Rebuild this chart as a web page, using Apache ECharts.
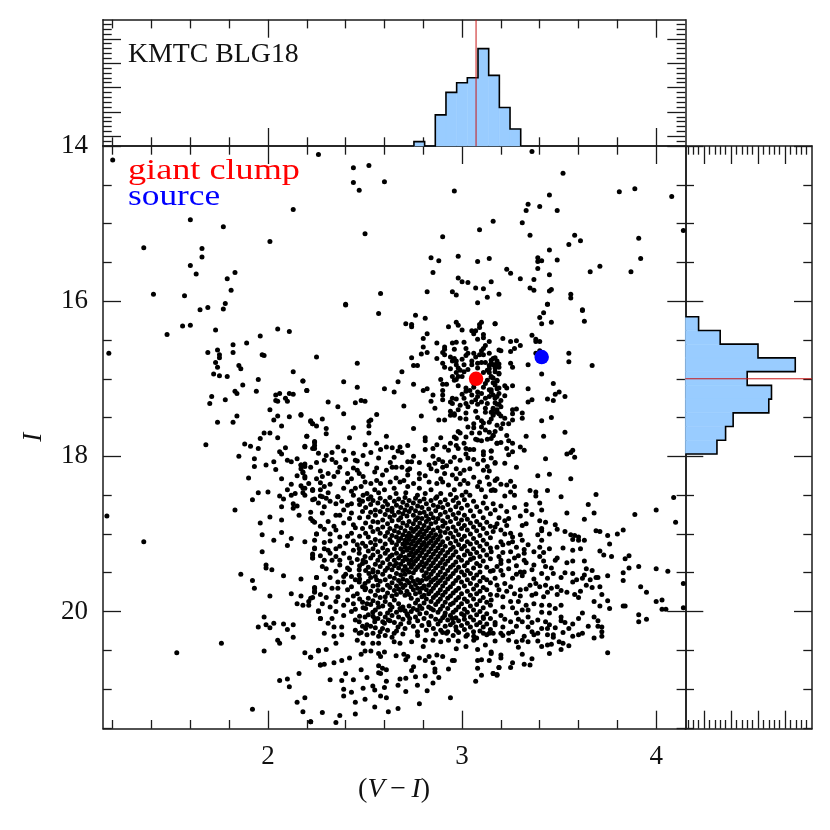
<!DOCTYPE html>
<html><head><meta charset="utf-8">
<style>html,body{margin:0;padding:0;background:#fff}#c{width:830px;height:830px}</style>
<script src="https://cdn.jsdelivr.net/npm/echarts@6/dist/echarts.min.js"></script></head>
<body><div id="c"></div>
<script>
const giantClump=[[3.072,17.0]];
const sourceStar=[[3.41,16.72]];
const clumpLineX=3.072, clumpLineY=17.0;
const topBinStart=2.752, topBinWidth=0.055;
const topCounts=[3.9,3,9.4,14,16,17,23,17.5,10.9,6.5];
const rightBinStart=16.2, rightBinWidth=0.177;
const rightCounts=[4,8,15,21.9,13,17.5,17,10.4,9,7.4];
const xMajor=[2,3,4];
const xMinor=[1.2,1.4,1.6,1.8,2.2,2.4,2.6,2.8,3.2,3.4,3.6,3.8,4.2];
const yMajor=[14,16,18,20];
const yMinor=[14.5,15,15.5,16.5,17,17.5,18.5,19,19.5,20.5,21,21.5];
const countMajorTop=[5,10,15,20,25];
const countMinorTop=[4,6,7,8,9,11,12,13,14,16,17,18,19,21,22,23,24,26,27,28];
const countMajorRight=[5,10,15,20];
const countMinorRight=[2,3,4,6,7,8,9,11,12,13,14,16,17,18,19,21,22,23,24];
const sparseStars=[[1.2,14.18],[2.26,14.11],[2.44,14.28],[2.52,14.25],[2.6,14.46],[2.44,14.47],[2.47,14.57],[2.13,14.82],[1.6,14.95],[1.77,15.04],[2.5,15.13],[2.01,15.23],[1.36,15.31],[1.66,15.32],[1.66,15.43],[1.6,15.54],[1.63,15.65],[1.83,15.63],[1.79,15.71],[1.81,15.86],[1.41,15.91],[1.57,15.93],[2.58,15.9],[2.4,16.04],[1.78,16.03],[1.69,16.08],[1.65,16.11],[1.77,16.1],
[3.36,14.07],[3.52,14.35],[2.96,14.58],[3.45,14.63],[3.34,14.75],[3.4,14.78],[3.33,14.83],[3.49,14.83],[3.81,14.59],[3.89,14.55],[4.08,14.65],[3.16,14.97],[3.31,14.99],[3.09,15.08],[2.9,15.17],[3.35,15.15],[4.14,15.09],[3.58,15.15],[3.61,15.22],[3.55,15.27],[3.91,15.19],[3.45,15.34],[2.84,15.44],[2.88,15.48],[2.98,15.42],[3.08,15.49],[3.14,15.45],[3.39,15.44],[3.39,15.49],[3.41,15.48],[3.49,15.47],[3.92,15.45],[3.39,15.58],[3.23,15.59],[3.25,15.64],[3.71,15.55],[3.66,15.62],[3.87,15.62],[2.85,15.63],[2.98,15.7],[3,15.75],[3.03,15.76],[3.15,15.75],[3.3,15.71],[3.37,15.72],[3.45,15.66],[3.07,15.83],[3.11,15.84],[3.35,15.83],[3.37,15.86],[3.46,15.85],[3.45,15.87],[2.82,15.88],[2.95,15.88],[2.97,15.92],[3.13,15.95],[3.19,15.91],[3.56,15.91],[3.56,15.96],[3.08,16.02],[3.44,16.04],[3.62,16.11],
[1.56,16.32],[1.6,16.31],[1.48,16.43],[1.73,16.37],[2.05,16.36],[2.11,16.39],[1.96,16.45],[1.82,16.56],[1.89,16.54],[1.74,16.63],[1.69,16.66],[1.82,16.66],[1.18,16.67],[1.75,16.69],[1.75,16.73],[1.97,16.69],[1.98,16.7],[1.73,16.79],[1.74,16.85],[1.85,16.83],[1.86,16.87],[2.13,16.91],[1.72,16.94],[1.75,16.96],[1.79,16.97],[1.95,17.01],[2.18,17.03],[1.87,17.08],[1.83,17.16],[1.84,17.19],[1.94,17.16],[2.2,17.15],[2.04,17.21],[2.06,17.19],[2.11,17.19],[2.13,17.2],[1.71,17.23],[1.78,17.27],[2.09,17.25],[2.04,17.28],[2.05,17.29],[2.1,17.29],[1.7,17.32],[2.01,17.4],[1.84,17.48],[2.05,17.48],[2.11,17.49],[2.17,17.46],[2.03,17.53],[1.74,17.56],[1.82,17.56],[2.22,17.55],[2.23,17.58],[2.07,17.61],[1.98,17.7],[2.01,17.7],[1.96,17.77],[2.05,17.76],[2.2,17.74],[1.68,17.85],[1.88,17.84],[1.91,17.87],[1.95,17.9],[2.09,17.89],[2.19,17.87],[2.24,17.82],[2.23,17.9],[2.06,17.94],[2.07,17.97],[1.85,18],[1.93,18.03],[2.15,18.03],[2.1,18.05],[2.12,18.07],[2.03,18.07],[1.93,18.13],[1.99,18.11],[2.17,18.11],[2.19,18.1],[2.22,18.14],[2.17,18.16],[2.04,18.17],[2.18,18.21],[1.9,18.28],[2.19,18.28],[2.07,18.29],[2.15,18.25],[2.12,18.36],[2.17,18.38],[2.19,18.41],[2.1,18.43],[2.23,18.43],[1.95,18.47],[2,18.46],[2.18,18.47],[2.06,18.51],[2.12,18.5],[2.14,18.48],[2.23,18.44],[1.92,18.56],[2.08,18.55],[2.23,18.56],[2.13,18.61],[2.15,18.64],[2.07,18.65],[2.13,18.67],[1.83,18.69],[2.16,18.76],[1.17,18.77],[2.01,18.78],[2.07,18.82],[2.22,18.8],
[2.24,18.85],[1.96,18.86],[1.36,19.1],[1.97,19.01],[2.07,18.98],[2.25,19],[2.03,19.08],[2.12,19.06],[2.19,19.1],[2.1,19.15],[2.24,19.19],[1.97,19.23],[2.23,19.26],[2.23,19.31],[1.99,19.4],[1.99,19.44],[2.02,19.46],[1.86,19.52],[2.08,19.54],[2.17,19.58],[2.25,19.56],[1.92,19.6],[1.93,19.7],[2.24,19.69],[2.24,19.74],[2.12,19.77],[2.01,19.8],[2.17,19.8],[2.23,19.82],[2.21,19.87],[2.15,19.9],[2.18,19.92],[2.21,19.92],[2.26,19.99],[1.98,20.07],[2.27,20.09],[2.03,20.15],[1.99,20.17],[2.08,20.16],[2.13,20.17],[1.95,20.2],[2.01,20.21],[2.1,20.23],[2.13,20.33],[2.05,20.37],[2.06,20.41],[1.76,20.41],[1.53,20.53],[1.98,20.51],[2.19,20.53],[2.26,20.5],[2.22,20.59],[2.27,20.69],[2.16,20.8],[2.1,20.87],[2.06,20.89],[2.11,20.97],[2.19,21.11],[2.15,21.17],[1.92,21.26],[2.18,21.29],[2.22,21.42]];
const clumpStars=[[2.4,16.05],[2.57,16.16],[2.76,16.18],[2.81,16.22],[2.71,16.29],[2.74,16.3],[2.74,16.33],[2.93,16.33],[2.97,16.27],[2.98,16.31],[3,16.37],[3.1,16.27],[3.09,16.3],[3.09,16.34],[3.17,16.29],[3.05,16.38],[3.07,16.38],[3.06,16.42],[2.82,16.42],[2.8,16.48],[3.11,16.43],[3.11,16.47],[3.08,16.49],[2.87,16.54],[2.95,16.54],[2.97,16.53],[3.01,16.53],[3.14,16.52],[2.8,16.59],[2.91,16.59],[2.91,16.62],[2.96,16.62],[3.02,16.61],[3.12,16.57],[3.11,16.61],[3.1,16.64],[2.79,16.68],[2.82,16.66],[2.9,16.66],[2.91,16.69],[3.03,16.67],[3.06,16.67],[3.09,16.69],[3.11,16.69],[3.14,16.67],[3.19,16.63],[2.25,16.72],[2.74,16.73],[2.87,16.74],[2.94,16.72],[2.96,16.74],[2.95,16.77],[2.97,16.77],[3,16.75],[3.05,16.77],[3.08,16.8],[3.1,16.79],[3.12,16.79],[3.16,16.74],[3.18,16.77],[3.15,16.8],[3.17,16.82],[2.46,16.8],[2.75,16.83],[2.77,16.83],[2.9,16.8],[2.91,16.85],[2.97,16.82],[3.01,16.82],[3.05,16.82],[3.13,16.89],[3.14,16.87],[3.19,16.85],[2.69,16.91],[2.94,16.87],[2.99,16.89],[3.01,16.91],[2.97,16.92],[3.14,16.92],[3.17,16.91],[3.15,16.97],[3.19,16.94],[2.95,16.97],[2.98,16.97],[3,16.97],[2.96,17.02],[2.97,17.01],[2.89,17.01],[2.18,17.03],[2.39,17.04],[2.67,17.04],[2.75,17.07],[2.92,17.07],[3.13,17.02],[3.16,16.99],[3.18,17.02],[2.46,17.11],[2.2,17.15],[2.6,17.13],[2.65,17.17],[2.8,17.15],[2.82,17.13],[2.9,17.07],[2.9,17.15],[3.06,17.11],[3.04,17.15],[3.08,17.17],[3.11,17.11],[3.14,17.14],[3.17,17.08],[3.19,17.12],[3.15,17.17],[2.9,17.21],[2.85,17.21],[3,17.2],[3.01,17.25],[3.05,17.21],[3.08,17.23],[3.1,17.19],[3.12,17.25],[3.14,17.23],[3.18,17.23],[2.95,17.25],[2.97,17.26],[2.9,17.27],[2.84,17.29],[2.31,17.3],[2.45,17.31],[2.48,17.28],[2.5,17.29],[2.94,17.3],[2.95,17.32],[3.02,17.32],[3.05,17.3],[3.08,17.33],[3.1,17.3],[3.13,17.32],[3.17,17.31],[3.19,17.33],[2.99,17.34],[2.7,17.35],[2.36,17.36],[2.86,17.38],[3.12,17.38],[3.16,17.4],[3.18,17.43],[3.16,17.45],[3.19,17.45],[2.39,17.45],[2.17,17.47],[2.94,17.42],[2.96,17.45],[2.94,17.47],[2.96,17.47],[2.56,17.46],[2.79,17.48],[2.28,17.52],[2.22,17.54],[2.99,17.51],[3.02,17.52],[3.08,17.5],[2.88,17.53],[2.91,17.53],[2.52,17.55],[2.53,17.53],[2.23,17.58],[2.25,17.61],[2.52,17.61],[3.14,17.56],[3.06,17.58],[3.11,17.57],[3.03,17.62],[3.06,17.63],[3.1,17.62],[3.12,17.66],[2.44,17.63],[2.3,17.64],[2.75,17.64],[2.98,17.68],[2.99,17.7],[2.52,17.7],[2.3,17.71],[2.2,17.74],[2.42,17.76],[2.61,17.74],[3.16,17.73],[2.89,17.76],[2.81,17.76],[2.81,17.8],[2.96,17.75],[2.97,17.77],[3.07,17.78],[3.08,17.79],[3.1,17.8],[3.13,17.78],[3.15,17.77],[2.24,17.81],[2.24,17.86],[2.24,17.9],[2.56,17.83],[3.18,17.83],[2.19,17.88],[2.5,17.85],[2.72,17.86],[2.87,17.85],[2.85,17.9],[2.91,17.88],[2.94,17.83],[2.97,17.86],[3.01,17.83],[2.61,17.88],[2.64,17.89],[2.68,17.88],[2.36,17.88],[2.67,17.93],[2.69,17.95],[2.81,17.91],[2.33,17.95],[2.39,17.93],[2.93,17.92],[2.98,17.9],[3.02,17.9],[3.06,17.91],[3.04,17.91],[3.11,17.94],[3.11,17.98],[3.15,17.93],[2.3,17.99],[2.49,17.99],[3.02,17.97],[2.33,18.04],[2.35,18.08],[2.37,18.14],[2.4,18.04],[2.45,18.05],[2.46,18.06],[2.57,18.02],[2.99,18.05],[3.06,18.04],[3.11,18.05],[2.88,18.04],[2.9,18.07],[2.86,18.09],[2.83,18.11],[2.9,18.14],[2.63,18.08],[2.72,18.07],[2.74,18.07],[2.78,18.08],[3.17,18.08],[2.17,18.11],[2.19,18.13],[2.56,18.15],[2.64,18.14],[2.66,18.14],[2.69,18.14],[2.73,18.16],[2.72,18.18],[2.84,18.16],[2.87,18.19],[2.97,18.16],[3.01,18.18],[3.04,18.16],[3.11,18.18],[2.18,18.2],[2.27,18.19],[2.28,18.26],[2.25,18.29],[2.46,18.18],[2.47,18.22],[2.41,18.22],[2.59,18.24],[2.72,18.24],[2.78,18.22],[2.78,18.29],[2.91,18.22],[2.95,18.24],[2.97,18.29],[2.99,18.22],[2.19,18.26],[2.34,18.26],[2.43,18.29],[2.41,18.33],[2.49,18.26],[2.5,18.33],[2.56,18.31],[2.58,18.35],[2.68,18.33],[2.89,18.29],[2.9,18.33],[2.87,18.35],[3.01,18.31],[3.03,18.35],[3.09,18.33],[3.17,18.31],[2.32,18.36],[2.29,18.39],[2.27,18.43],[2.23,18.43],[2.18,18.41],[2.39,18.41],[2.45,18.41],[2.48,18.39],[2.53,18.35],[2.6,18.43],[2.65,18.41],[2.72,18.39],[2.78,18.41],[2.84,18.43],[2.89,18.48],[2.96,18.43],[3.02,18.46],[3.1,18.43],[3.16,18.43],[2.19,18.5],[2.28,18.52],[2.36,18.52],[2.44,18.5],[2.51,18.48],[2.57,18.47],[2.71,18.47],[2.77,18.5],[2.87,18.52],[2.97,18.53],[3.04,18.5],[3.12,18.52]];
const rightStars=[[3.44,16.04],[3.62,16.12],[3.42,16.15],[3.4,16.21],[3.41,16.29],[3.46,16.27],[3.63,16.26],[3.17,16.29],[3.36,16.44],[3.38,16.49],[3.38,16.52],[3.4,16.52],[3.21,16.48],[3.25,16.52],[3.28,16.51],[3.3,16.57],[3.27,16.61],[3.25,16.65],[3.2,16.64],[3.38,16.67],[3.4,16.64],[3.55,16.67],[3.55,16.78],[3.67,16.83],[3.34,16.82],[3.25,16.8],[3.26,16.85],[3.17,16.73],[3.15,16.76],[3.18,16.8],[3.16,16.82],[3.19,16.81],[3.41,16.94],[3.17,16.86],[3.19,16.93],[3.47,17.06],[3.15,16.98],[3.18,17.03],[3.34,17.13],[3.22,17.09],[3.23,17.12],[3.26,17.09],[3.15,17.14],[3.18,17.13],[3.16,17.21],[3.19,17.19],[3.17,17.25],[3.22,17.22],[3.5,17.17],[3.48,17.2],[3.53,17.23],[3.44,17.26],[3.47,17.28],[3.36,17.27],[3.34,17.3],[3.2,17.28],[3.18,17.33],[3.2,17.36],[3.16,17.38],[3.15,17.43],[3.18,17.4],[3.26,17.4],[3.28,17.39],[3.26,17.45],[3.31,17.44],[3.31,17.51],[3.2,17.48],[3.22,17.51],[3.46,17.5],[3.26,17.53],[3.24,17.58],[3.41,17.54],[3.21,17.58],[3.2,17.64],[3.16,17.47],[3.53,17.69],[3.33,17.74],[3.42,17.74],[3.16,17.73],[3.23,17.73],[3.24,17.8],[3.26,17.83],[3.2,17.82],[3.18,17.83],[3.3,17.88],[3.32,17.92],[3.23,17.9],[3.26,17.94],[3.24,17.98],[3.15,17.93],[3.57,17.92],[3.56,17.95],[3.54,17.97],[3.58,18.01],[3.43,18.03],[3.17,18.09],[3.22,18.09],[3.28,18.14],[3.14,18.19],[3.45,18.23],[3.39,18.25],[3.56,18.29],[3.18,18.29],[3.2,18.36],[3.25,18.32],[3.23,18.37],[3.27,18.39],[3.15,18.44],[3.17,18.44],[3.25,18.46],[3.27,18.5],[3.22,18.51],[3.35,18.44],[3.38,18.46],[3.38,18.51],[3.44,18.44],[3.51,18.52],[3.69,18.49],[4.09,18.53],
[3.65,18.62],[3.54,18.73],[3.68,18.73],[3.89,18.75],[4,18.69],[3.63,18.81],[4.1,18.85],[3.33,18.62],[3.33,18.7],[3.36,18.75],[3.4,18.6],[3.41,18.69],[3.27,18.66],[3.23,18.71],[3.2,18.64],[3.19,18.79],[3.22,18.83],[3.16,18.61],[3.17,18.69],[3.4,18.83],[3.43,18.85],[3.48,18.88],[3.49,18.94],[3.31,18.89],[3.33,18.87],[3.41,18.93],[3.41,18.96],[3.23,18.89],[3.17,18.91],[3.16,18.97],[3.53,18.97],[3.45,19],[3.56,19.01],[3.58,19.02],[3.6,19.04],[3.63,19.08],[3.57,19.07],[3.6,19.08],[3.69,18.96],[3.71,18.97],[3.75,19.02],[3.76,19.13],[3.8,19],[3.83,18.95],[3.39,19.01],[3.41,19.08],[3.3,19.01],[3.31,19.08],[3.26,19.1],[3.25,18.99],[3.26,19.04],[3.2,19.1],[3.21,19.14],[3.4,19.17],[3.42,19.24],[3.45,19.19],[3.52,19.18],[3.57,19.21],[3.61,19.19],[3.71,19.22],[3.73,19.27],[3.77,19.29],[3.32,19.2],[3.32,19.25],[3.29,19.28],[3.25,19.23],[3.21,19.24],[3.15,19.23],[3.4,19.29],[3.49,19.31],[3.48,19.34],[3.57,19.35],[3.54,19.37],[3.63,19.35],[3.84,19.32],[3.86,19.28],[3.86,19.44],[3.91,19.42],[4,19.45],[4.06,19.48],[3.83,19.5],[3.83,19.6],[3.75,19.54],[3.67,19.47],[3.64,19.45],[3.69,19.56],[3.7,19.56],[4.14,19.64],[3.32,19.34],[3.33,19.37],[3.2,19.34],[3.24,19.35],[3.2,19.38],[3.43,19.42],[3.46,19.44],[3.37,19.4],[3.36,19.46],[3.28,19.41],[3.3,19.49],[3.32,19.49],[3.47,19.51],[3.41,19.51],[3.53,19.5],[3.57,19.51],[3.63,19.53],[3.62,19.57],[3.59,19.59],[3.57,19.62],[3.51,19.56],[3.44,19.57],[3.37,19.58],[3.31,19.54],[3.26,19.57],[3.2,19.47],[3.21,19.53],[3.16,19.47],[3.17,19.57],[3.66,19.59],[3.64,19.66],[3.67,19.69],[3.71,19.68],[3.72,19.78],[3.92,19.68],[3.95,19.75],[3.49,19.68],[3.46,19.7],[3.43,19.66],[3.4,19.68],[3.35,19.66],[3.38,19.64],[3.3,19.72],[3.27,19.77],[3.22,19.64],[3.25,19.68],[3.18,19.66],[3.54,19.75],[3.58,19.78],[3.61,19.74],[3.6,19.82],[3.49,19.78],[3.38,19.77],[3.36,19.79],[3.42,19.81],[3.75,19.86],[3.76,19.96],[3.71,19.93],[3.68,19.87],[4,19.87],[4.03,19.85],[4.03,19.97],[4.05,19.97],[4.14,19.95],[3.83,19.93],[3.84,19.93],[3.91,20.04],[3.91,20.13],[3.95,20.1],[3.29,19.87],[3.25,19.87],[3.21,19.81],[3.18,19.79],[3.15,19.85],[3.33,19.92],[3.37,19.9],[3.41,19.92],[3.45,19.92],[3.51,19.92],[3.48,19.96],[3.45,20.02],[3.31,19.98],[3.21,19.94],[3.17,20],[3.62,20.02],[3.6,20.09],[3.68,20.07],[3.7,20.12],[3.65,20.19],[3.7,20.19],[3.72,20.2],[3.72,20.26],[3.72,20.32],[3.68,20.34],[3.57,20.16],[3.55,20.22],[3.53,20.14],[3.51,20.07],[3.51,20.12],[3.39,20.11],[3.43,20.13],[3.45,20.17],[3.48,20.21],[3.34,20.07],[3.28,20.02],[3.25,20.13],[3.2,20.05],[3.17,20.14],[3.31,20.13],[3.34,20.2],[3.36,20.26],[3.37,20.3],[3.32,20.32],[3.26,20.26],[3.24,20.28],[3.2,20.28],[3.21,20.31],[3.16,20.28],[3.17,20.38],[3.44,20.22],[3.44,20.3],[3.47,20.3],[3.47,20.33],[3.57,20.32],[3.6,20.3],[3.62,20.28],[3.39,20.38],[3.34,20.39],[3.31,20.37],[3.28,20.39],[3.24,20.37],[3.5,20.39],[3.52,20.41],[3.55,20.44],[3.46,20.42],[3.44,20.43],[3.41,20.45],[3.51,20.49],[3.45,20.54],[3.75,20.53],[3.29,20.46],[3.31,20.55],[3.36,20.61],[3.32,20.68],[3.35,20.69],[3.26,20.66],[3.25,20.72],[3.15,20.52],[3.2,20.56],[3.2,20.6],[3.19,20.72],[3.16,20.8],[3.18,20.82]];
const lowerStars=[[2.22,21.42],[2.28,21.3],[2.35,21.43],[2.37,21.34],[2.45,21.32],[2.55,21.23],[2.62,21.29],[2.67,21.25],[2.78,21.19],[2.94,21.11],[2.45,21.17],[2.5,21.13],[2.39,21.09],[2.43,21.04],[2.39,21],[2.49,20.99],[2.54,20.96],[2.55,21.01],[2.58,21.09],[2.61,21.11],[2.6,20.98],[2.61,20.9],[2.71,21.03],[2.82,21.02],[2.77,20.95],[2.67,20.95],[2.85,20.92],[2.88,20.85],[2.81,20.83],[2.76,20.84],[2.68,20.87],[2.71,20.86],[2.74,20.76],[2.75,20.71],[2.32,20.88],[2.38,20.89],[2.44,20.88],[2.4,20.8],[2.51,20.85],[2.48,20.75],[2.57,20.7],[2.59,20.73],[2.57,20.79],[2.58,20.8],[2.61,20.75],[2.86,20.74],[2.86,20.78],[2.93,20.74],[2.34,20.66],[2.38,20.63],[2.27,20.69],[2.29,20.68],[2.42,20.6],[2.22,20.59],[2.26,20.51],[2.3,20.49],[2.48,20.55],[2.5,20.51],[2.53,20.51],[2.57,20.54],[2.58,20.58],[2.6,20.52],[2.66,20.57],[2.7,20.55],[2.71,20.62],[2.72,20.58],[2.78,20.6],[2.81,20.63],[2.83,20.58],[2.87,20.56],[2.9,20.58],[2.85,20.66],[2.95,20.63],[2.96,20.63],[2.97,20.48],[3.07,20.9],[3.1,20.82],[3.08,20.73],[3.1,20.62],[3.08,20.63],[3.16,20.8],[3.18,20.81],[3.19,20.72],[3.14,20.63],[3.15,20.54],[3.12,20.43],[3.08,20.49],[3.02,20.45],[3.06,20.37],[2.29,20.28],[2.34,20.32],[2.35,20.41],[2.38,20.3],[2.46,20.37],[2.49,20.41],[2.54,20.41],[2.57,20.41],[2.47,20.28],[2.51,20.3],[2.57,20.32],[2.65,20.39],[2.68,20.41],[2.74,20.39],[2.8,20.45],[2.81,20.37],[2.85,20.37],[2.89,20.39],[2.93,20.37],[2.98,20.38],[2.34,20.2],[2.38,20.2],[2.45,20.24],[2.48,20.27],[2.51,20.17],[2.55,20.13],[2.59,20.22],[2.62,20.11],[2.65,20.28],[2.67,20.2],[2.26,20],[2.27,20.09],[2.33,20.09],[2.39,20.05],[2.43,20],[2.45,20.11],[2.47,20.13],[2.5,20.07],[2.55,20.09],[2.6,20.15],[2.73,20.09],[2.77,20.26],[2.83,20.17],[2.89,20.24],[2.92,20.28],[2.97,20.24],[3.02,20.32],[3.06,20.32],[3.11,20.28],[3.14,20.28],[2.22,19.83],[2.28,19.9],[2.32,19.94],[2.39,19.92],[2.44,19.9],[2.51,19.9],[2.57,19.94],[2.63,19.98],[2.68,19.96],[2.72,20.05],[2.77,19.98],[2.84,19.96],[2.91,20.05],[2.95,20.09],[3.01,20.05],[3.11,20.09],[3.17,20.17],[2.25,19.56],[2.24,19.7],[2.24,19.75],[2.33,19.7],[2.36,19.7],[2.41,19.72],[2.46,19.77],[2.36,19.81],[2.35,19.87],[2.39,19.62],[2.36,19.62],[2.39,19.55],[2.45,19.59],[2.47,19.62],[2.5,19.64],[2.47,19.53],[2.52,19.51],[2.54,19.49],[2.56,19.59],
[2.24,18.55],[2.27,18.51],[2.3,18.54],[2.29,18.65],[2.28,18.73],[2.23,18.83],[2.31,18.84],[2.25,19],[2.29,19.11],[2.32,19.09],[2.24,19.18],[2.29,19.19],[2.31,19.21],[2.32,19.25],[2.35,19.19],[2.37,19.16],[2.4,19.12],[2.41,19.03],[2.43,18.99],[2.44,18.88],[2.43,18.73],[2.39,18.86],[2.35,18.76],[2.37,18.76],[2.35,18.95],[2.29,19.34],[2.33,19.34],[2.3,19.45],[2.35,19.48],[2.37,19.4],[2.37,19.34],[2.43,19.37],[2.41,19.44],[2.42,19.46],[2.49,19.34],[2.44,19.21],[2.47,19.19],[2.47,19.25],[2.5,19.29],[2.23,19.27],[2.23,19.31],[2.35,18.61],[2.36,18.52],[2.38,18.58],[2.41,18.63],[2.43,18.61],[2.47,18.56],[2.49,18.5],[2.53,18.52]];
const fringeStars=[[2.26,18.6],[2.32,18.58],[2.39,18.69],[2.42,18.8],[2.45,18.92],[2.34,18.9],[2.29,18.94],[2.37,19.04],[2.32,19.0],[2.44,19.09],[2.46,19.14],[2.39,19.25],[2.35,19.29],[2.42,19.31],[2.46,19.33],[2.4,19.52],[2.43,19.55],[2.47,19.46],[2.43,19.68],[2.5,19.72],[2.44,19.8],[2.41,19.85],[2.49,19.95],[2.45,19.97],[2.54,20.01],
[2.22,18.72],[2.27,18.9],[2.24,19.08],[2.27,19.28],[2.28,19.42],[2.32,19.56],[2.29,19.65],[2.3,19.82],[2.27,19.78],[2.35,20],[2.31,20.15],
[2.44,18.15],[2.51,18.1],[2.55,18.2],[2.61,18.18],[2.66,18.28],[2.63,18.33],[2.7,18.31],[2.75,18.35],[2.81,18.25],[2.83,18.33],[2.93,18.37],[2.99,18.36],[3.06,18.27],[3.08,18.39],[3.13,18.27],[3.14,18.36],[2.92,18.12],[2.94,18.07],[3.03,18.02],[3.08,18.1],[3.13,18.13],[3.15,18.02],[2.96,18.01],[2.85,18],[2.75,18],[2.65,18.01],[2.53,17.95],[2.58,17.91],[2.44,17.96],[2.81,18.48],[2.94,18.49],[3,18.5],[2.66,18.48],[2.55,18.43],[2.43,18.45],[2.31,18.47],[2.21,18.35],[2.27,18.34],[2.31,18.22],[2.36,18.2],[2.25,18.08],[2.29,18.05],[2.26,17.96],
[3.02,16.7],[3.07,16.72],[2.98,16.86],[3.03,16.88],[3.08,16.86],[3.11,16.92],[3.06,17.06],[3.02,17.12],[2.98,17.09],[3.12,17.06],[3.16,17.05],[3.14,16.83],[3.02,17.16],[3.07,17.27],[3.03,17.36],[3.07,17.42],[3.02,17.44],[3.12,17.43],[2.98,17.4],[3.1,17.54],[3.15,17.52],[3.18,17.6],[3.05,17.7],[3.09,17.7],[3.14,17.69],[3.02,17.75],[3.17,17.68],
[3.2,18.95],[3.24,18.8],[3.3,18.77],[3.18,18.87],[3.22,19],[3.28,19.17],[3.24,19.12],[3.18,19.17],[3.19,19.29],[3.27,19.31],[3.34,19.14],[3.37,19.23],[3.42,19.35],[3.18,19.42],[3.24,19.45],[3.28,19.52],[3.19,19.72],[3.23,19.74],[3.33,19.71],[3.44,19.75],[3.51,19.73],[3.3,19.8],[3.26,19.95],[3.34,19.98],[3.41,20.01],[3.22,20.1],[3.29,20.1],[3.36,20.14],[3.21,20.2],[3.28,20.19],[3.41,20.22],[3.52,20.27],[3.39,20.28]];
const coreColumns=[
[2.472,18.62,18.79,19.03,19.41,19.58,19.84,20.06],
[2.487,18.58,18.71,18.93,19.12,19.38,19.68,19.88,20.19],
[2.503,18.66,18.86,18.99,19.16,19.36,19.47,19.7,19.96,20.22],
[2.517,18.55,18.78,19.04,19.22,19.43,19.61,19.83,20.04],
[2.529,18.62,18.72,18.91,19.11,19.31,19.56,19.74,19.91,20.19],
[2.541,18.57,18.84,18.97,19.19,19.27,19.46,19.67,19.86,20.06,20.28],
[2.553,18.69,18.76,19.07,19.14,19.39,19.55,19.79,19.98,20.21],
[2.566,18.6,18.85,18.94,19.23,19.34,19.49,19.66,19.73,19.89,20.09],
[2.578,18.54,18.71,18.99,19.09,19.29,19.42,19.61,19.82,20.03,20.26],
[2.591,18.65,18.82,18.91,19.18,19.37,19.52,19.72,19.93,20.13],
[2.604,18.58,18.75,19.03,19.13,19.25,19.47,19.59,19.81,19.87,20.07,20.31],
[2.616,18.62,18.69,18.87,18.98,19.21,19.33,19.44,19.66,19.76,20.02,20.24],
[2.628,18.53,18.78,18.93,19.07,19.29,19.39,19.55,19.69,19.91,20.12],
[2.639,18.67,18.71,18.83,19.02,19.11,19.27,19.46,19.63,19.8,19.94,20.05,20.33],
[2.651,18.58,18.76,18.96,19.19,19.34,19.41,19.57,19.73,19.85,20.14],
[2.662,18.63,18.9,19.04,19.14,19.25,19.38,19.51,19.67,19.78,20.01,20.25],
[2.673,18.55,18.72,18.82,18.98,19.09,19.31,19.44,19.6,19.71,19.9,20.07],
[2.684,18.66,18.79,18.92,19.06,19.19,19.28,19.39,19.53,19.64,19.75,19.98,20.16],
[2.695,18.59,18.74,18.86,19.01,19.13,19.23,19.35,19.47,19.58,19.69,19.94,20.1,20.29],
[2.706,18.53,18.69,18.96,19.08,19.17,19.3,19.42,19.52,19.66,19.79,19.99,20.22],
[2.716,18.63,18.77,18.89,19.03,19.12,19.21,19.33,19.46,19.6,19.74,20.03],
[2.727,18.57,18.71,18.84,18.99,19.07,19.18,19.27,19.38,19.49,19.63,19.78,19.93,20.14],
[2.738,18.67,18.93,19.03,19.13,19.24,19.34,19.43,19.56,19.68,19.83,20],
[2.749,18.6,18.76,18.87,18.97,19.09,19.19,19.29,19.39,19.5,19.61,19.72,19.96,20.19],
[2.76,18.54,18.7,18.82,18.94,19.05,19.15,19.25,19.35,19.46,19.65,19.77,19.89,20.07],
[2.771,18.64,18.79,18.91,19.01,19.11,19.22,19.32,19.43,19.59,19.7,19.85,20.12,20.31],
[2.782,18.58,18.73,18.86,18.98,19.08,19.18,19.28,19.4,19.63,19.75,19.93,20.03],
[2.793,18.66,18.8,18.94,19.04,19.14,19.24,19.36,19.47,19.6,19.7,19.81,19.96,20.18],
[2.804,18.55,18.72,18.89,19,19.11,19.2,19.31,19.42,19.54,19.67,19.79,19.89,20.09],
[2.816,18.61,18.77,18.84,18.96,19.06,19.16,19.27,19.38,19.5,19.58,19.72,19.84,20.02,20.24],
[2.828,18.68,18.81,18.92,19.03,19.12,19.23,19.34,19.45,19.56,19.66,19.77,19.94,20.14],
[2.84,18.57,18.74,18.87,18.99,19.09,19.19,19.3,19.41,19.52,19.62,19.74,19.87,20.06],
[2.852,18.63,18.79,18.95,19.05,19.15,19.26,19.37,19.48,19.59,19.7,19.82,19.98,20.22],
[2.864,18.54,18.7,18.85,19.01,19.11,19.22,19.33,19.44,19.57,19.66,19.79,19.91,20.1,20.29],
[2.876,18.65,18.8,18.92,19.07,19.18,19.29,19.41,19.53,19.63,19.76,19.87,20.01,20.16],
[2.888,18.59,18.75,18.97,19.03,19.14,19.25,19.37,19.49,19.6,19.72,19.84,19.97,20.12],
[2.9,18.66,18.83,18.9,19.1,19.21,19.33,19.44,19.56,19.67,19.79,19.93,20.08,20.27],
[2.913,18.56,18.72,18.86,18.98,19.16,19.28,19.39,19.52,19.63,19.75,19.88,20.02,20.19],
[2.926,18.62,18.78,18.93,19.06,19.24,19.35,19.47,19.58,19.71,19.83,19.96,20.11,20.26],
[2.94,18.69,18.84,18.99,19.12,19.2,19.31,19.43,19.55,19.68,19.8,19.91,20.05,20.17],
[2.954,18.57,18.75,18.91,19.04,19.17,19.27,19.4,19.51,19.64,19.76,19.89,20.01,20.14,20.31],
[2.968,18.65,18.8,18.96,19.09,19.23,19.36,19.47,19.6,19.73,19.85,19.98,20.08,20.2],
[2.982,18.6,18.73,18.87,19.01,19.14,19.3,19.43,19.56,19.7,19.82,19.94,20.12,20.27],
[2.997,18.67,18.82,18.93,19.07,19.19,19.34,19.49,19.62,19.77,19.9,20.03,20.18],
[3.012,18.56,18.76,18.89,19.03,19.16,19.27,19.41,19.53,19.67,19.84,19.97,20.1,20.23],
[3.027,18.63,18.81,18.95,19.1,19.22,19.37,19.47,19.59,19.74,19.87,20.01,20.15,20.3],
[3.043,18.7,18.86,19,19.13,19.26,19.33,19.51,19.64,19.79,19.93,20.07,20.2],
[3.059,18.58,18.77,18.91,19.06,19.19,19.31,19.44,19.57,19.71,19.84,19.98,20.11,20.26],
[3.075,18.65,18.84,18.96,19.11,19.24,19.38,19.53,19.66,19.77,19.91,20.04,20.17,20.34],
[3.092,18.71,18.88,19.02,19.16,19.29,19.41,19.49,19.61,19.74,19.86,20,20.14,20.25],
[3.109,18.6,18.79,18.93,19.08,19.21,19.35,19.56,19.69,19.82,19.95,20.07,20.2],
[3.127,18.67,18.85,18.99,19.13,19.27,19.43,19.59,19.72,19.88,20.03,20.16,20.3],
[3.146,18.74,18.9,19.05,19.18,19.32,19.48,19.63,19.78,19.92,20.09,20.23]];
const coreStars=coreColumns.flatMap(c=>c.slice(1).map(m=>[c[0],m]));
const stars=sparseStars.concat(clumpStars,rightStars,lowerStars,fringeStars,coreStars);

const serif='"Liberation Serif",serif', ink='#1a1a1a';
const grids=[{left:103,top:146,width:582.3,height:582.7},{left:103,top:19.7,width:582.3,height:126.3},{left:685.3,top:146,width:126.7,height:582.7}];
const xAxes=[],yAxes=[];
function addAxes(list,grid,sides,range,major,minor,inverse,labelled,nameOpt){
  const ids=[];
  sides.forEach((side,si)=>{
    [[major,18],[minor,8.7]].forEach(([vals,len],ti)=>{
      ids.push(list.length);
      const lab=labelled&&si===0&&ti===0;
      list.push(Object.assign({type:'value',gridIndex:grid,position:side,min:range[0],max:range[1],inverse:!!inverse,
        axisLine:{show:ti===0,onZero:false,lineStyle:{color:ink,width:1.5}},splitLine:{show:false},
        axisTick:{show:true,inside:true,length:len,customValues:vals,lineStyle:{color:ink,width:1.3}},
        axisLabel:lab?{show:true,customValues:vals,margin:15,color:'#111',fontFamily:serif,fontSize:27,showMinLabel:true,showMaxLabel:true,hideOverlap:false}:{show:false}},
        lab&&nameOpt?nameOpt:{}));
    });
  });
  return ids[0];
}
const xRange=[1.15,4.15], yRange=[14,21.51], topRange=[3,28.93], rightRange=[1.54,25];
const mx=addAxes(xAxes,0,['bottom','top'],xRange,xMajor,xMinor,false,true,{
  name:'{p|(}{i|V}{p|\u2009\u2212\u2009}{i|I}{p|)}',nameLocation:'middle',nameGap:47,
  nameTextStyle:{rich:{p:{fontFamily:serif,fontSize:28,color:'#111'},i:{fontFamily:serif,fontStyle:'italic',fontSize:28,color:'#111'}}}});
const my=addAxes(yAxes,0,['left','right'],yRange,yMajor,yMinor,true,true,{
  name:'I',nameLocation:'middle',nameGap:56,nameRotate:90,
  nameTextStyle:{fontFamily:serif,fontStyle:'italic',fontSize:27,color:'#111'}});
const tx=addAxes(xAxes,1,['bottom','top'],xRange,xMajor,xMinor);
const ty=addAxes(yAxes,1,['left','right'],topRange,countMajorTop,countMinorTop);
const rx=addAxes(xAxes,2,['bottom','top'],rightRange,countMajorRight,countMinorRight);
const ry=addAxes(yAxes,2,['left','right'],yRange,yMajor,yMinor,true);

const topBins=topCounts.map((c,i)=>[topBinStart+i*topBinWidth,topBinStart+(i+1)*topBinWidth,c]);
const rightBins=rightCounts.map((c,i)=>[rightBinStart+i*rightBinWidth,rightBinStart+(i+1)*rightBinWidth,c]);
const topStair=[[topBins[0][0],topRange[0]]];
topBins.forEach(b=>{topStair.push([b[0],b[2]],[b[1],b[2]]);});
topStair.push([topBins[topBins.length-1][1],topRange[0]]);
const rightStair=[[rightRange[0],rightBins[0][0]]];
rightBins.forEach(b=>{rightStair.push([b[2],b[0]],[b[2],b[1]]);});
rightStair.push([rightRange[0],rightBins[rightBins.length-1][1]]);
const fill='#99ccff';
const hist=[
 {type:'custom',xAxisIndex:tx,yAxisIndex:ty,data:topBins,encode:{x:[0,1],y:2},z:2,renderItem:(p,api)=>{
   const a=api.coord([api.value(0),api.value(2)]),b=api.coord([api.value(1),topRange[0]]);
   return {type:'rect',shape:{x:a[0],y:a[1],width:b[0]-a[0],height:b[1]-a[1]},style:{fill:fill,stroke:fill,lineWidth:.5}};}},
 {type:'custom',xAxisIndex:rx,yAxisIndex:ry,data:rightBins,encode:{y:[0,1],x:2},z:2,renderItem:(p,api)=>{
   const a=api.coord([rightRange[0],api.value(0)]),b=api.coord([api.value(2),api.value(1)]);
   return {type:'rect',shape:{x:a[0],y:a[1],width:b[0]-a[0],height:b[1]-a[1]},style:{fill:fill,stroke:fill,lineWidth:.5}};}},
 {type:'line',xAxisIndex:tx,yAxisIndex:ty,data:topStair,showSymbol:false,symbol:'none',z:3,clip:false,lineStyle:{color:'#000',width:1.6,join:'miter'}},
 {type:'line',xAxisIndex:rx,yAxisIndex:ry,data:rightStair,showSymbol:false,symbol:'none',z:3,clip:false,lineStyle:{color:'#000',width:1.6,join:'miter'}},
 {type:'line',xAxisIndex:tx,yAxisIndex:ty,data:[[clumpLineX,topRange[0]],[clumpLineX,topRange[1]]],symbol:'none',z:4,lineStyle:{color:'#c81818',width:1}},
 {type:'line',xAxisIndex:rx,yAxisIndex:ry,data:[[rightRange[0],clumpLineY],[rightRange[1],clumpLineY]],symbol:'none',z:4,lineStyle:{color:'#c81818',width:1}}
];
const chart=echarts.init(document.getElementById('c'),null,{renderer:'canvas'});
chart.setOption({animation:false,backgroundColor:'#fff',grid:grids,xAxis:xAxes,yAxis:yAxes,
 series:[
  {type:'scatter',xAxisIndex:mx,yAxisIndex:my,data:stars,symbolSize:5,itemStyle:{color:'#000',opacity:1},z:2,clip:true,large:false},
  {type:'scatter',xAxisIndex:mx,yAxisIndex:my,data:giantClump,symbolSize:14.5,itemStyle:{color:'#ff0000',opacity:1},z:5},
  {type:'scatter',xAxisIndex:mx,yAxisIndex:my,data:sourceStar,symbolSize:14.5,itemStyle:{color:'#0000ff',opacity:1},z:5}
 ].concat(hist),
 graphic:[
  {type:'text',x:128,y:41,scaleX:1.03,z:10,style:{text:'KMTC BLG18',fontFamily:serif,fontSize:27,fill:'#111'}},
  {type:'text',x:128,y:157.5,scaleX:1.27,z:10,style:{text:'giant clump',fontFamily:serif,fontSize:28.5,fill:'#ff0000'}},
  {type:'text',x:128,y:183,scaleX:1.24,z:10,style:{text:'source',fontFamily:serif,fontSize:28.5,fill:'#0000ff'}}
 ]});
</script></body></html>
